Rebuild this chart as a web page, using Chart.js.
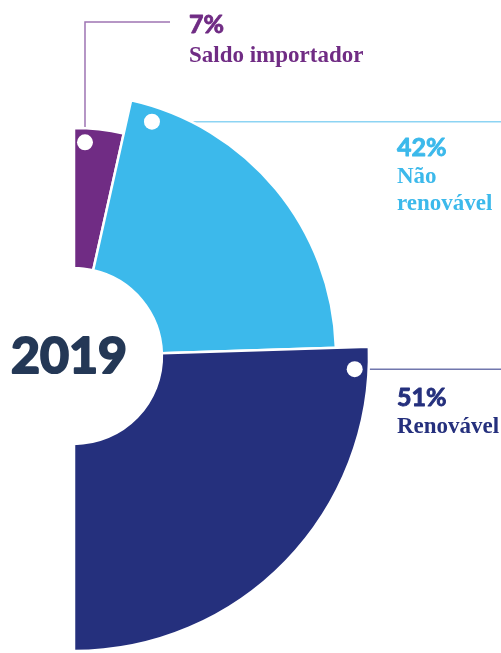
<!DOCTYPE html>
<html><head><meta charset="utf-8">
<script src="https://cdn.jsdelivr.net/npm/chart.js@4.4.1/dist/chart.umd.min.js"></script>
<style>html,body{margin:0;padding:0;background:#fff;overflow:hidden}#wrap{position:relative;width:501px;height:653px}</style>
</head><body><div id="wrap"><canvas id="c" width="501" height="653"></canvas></div>
<script>
// ---- data ----
const categories = ['Saldo importador', 'Não renovável', 'Renovável'];
const shares = [7, 42, 51];
const shareLabels = ['7%', '42%', '51%'];
const labelLines = [['Saldo importador'], ['Não', 'renovável'], ['Renovável']];
const yearLabel = '2019';

// ---- styles ----
const colors = ['#702c84', '#3cb9eb', '#25307d'];
const lineColors = ['#9e74b3', '#8dd4f3', '#7177ad'];
const radiusScale = [228 / 295, 262 / 295, 1];
const dotInset = [14, 15, 14];
const dotAlong = [11, 25, 22];
const pctFont = 'bold 25px Lato';
const nameFont = 'bold 23px "Liberation Serif"';
const yearFont = 'bold 50px Lato';
const yearColor = '#243856';

function dotPos(arc, i) {
  const r = arc.outerRadius - dotInset[i];
  const a = arc.startAngle + dotAlong[i] / r;
  return { x: arc.x + r * Math.cos(a), y: arc.y + r * Math.sin(a) };
}

const annotations = {
  id: 'annotations',
  afterDatasetsUpdate(chart) {
    const meta = chart.getDatasetMeta(0);
    meta.data.forEach((arc, i) => { arc.outerRadius = arc.outerRadius * radiusScale[i]; });
  },
  beforeDatasetsDraw(chart) {
    const ctx = chart.ctx;
    const arcs = chart.getDatasetMeta(0).data;
    ctx.save();
    ctx.lineWidth = 1.5;
    arcs.forEach((arc, i) => {
      const p = dotPos(arc, i);
      ctx.strokeStyle = lineColors[i];
      ctx.beginPath();
      if (i === 0) {
        ctx.moveTo(p.x, p.y);
        ctx.lineTo(p.x, 22);
        ctx.lineTo(170, 22);
      } else {
        ctx.moveTo(p.x, p.y);
        ctx.lineTo(chart.width, p.y);
      }
      ctx.stroke();
    });
    ctx.restore();
  },
  afterDatasetsDraw(chart) {
    const ctx = chart.ctx;
    const arcs = chart.getDatasetMeta(0).data;
    ctx.save();
    arcs.forEach((arc, i) => {
      const p = dotPos(arc, i);
      ctx.fillStyle = '#ffffff';
      ctx.beginPath();
      ctx.arc(p.x, p.y, 8, 0, Math.PI * 2);
      ctx.fill();
    });
    const pos = [
      { x: 189, y: 33, dy: 29 },
      { x: 397, y: 156, dy: 27 },
      { x: 397, y: 406, dy: 27 }
    ];
    ctx.textAlign = 'left';
    ctx.textBaseline = 'alphabetic';
    ctx.lineJoin = 'round';
    arcs.forEach((arc, i) => {
      ctx.fillStyle = colors[i];
      ctx.strokeStyle = colors[i];
      ctx.font = pctFont;
      ctx.lineWidth = 0.9;
      ctx.fillText(shareLabels[i], pos[i].x, pos[i].y);
      ctx.strokeText(shareLabels[i], pos[i].x, pos[i].y);
      ctx.font = nameFont;
      labelLines[i].forEach((t, k) => ctx.fillText(t, pos[i].x, pos[i].y + pos[i].dy * (k + 1)));
    });
    const a0 = arcs[0];
    ctx.font = yearFont;
    ctx.fillStyle = yearColor;
    ctx.strokeStyle = yearColor;
    ctx.lineWidth = 2.2;
    ctx.textAlign = 'center';
    ctx.fillText(yearLabel, a0.x - 5, a0.y + 17);
    ctx.strokeText(yearLabel, a0.x - 5, a0.y + 17);
    ctx.restore();
  }
};

new Chart(document.getElementById('c'), {
  type: 'doughnut',
  data: {
    labels: categories,
    datasets: [{
      data: shares,
      backgroundColor: colors,
      borderColor: '#ffffff',
      borderWidth: 2.5,
      hoverOffset: 0,
      radius: 295
    }]
  },
  options: {
    responsive: false,
    animation: false,
    rotation: 0,
    circumference: 180,
    cutout: '29.8%',
    layout: { padding: { left: 0, right: 58, top: 59, bottom: 0 } },
    plugins: { legend: { display: false }, tooltip: { enabled: false } },
    events: []
  },
  plugins: [annotations]
});
</script>
</body></html>
